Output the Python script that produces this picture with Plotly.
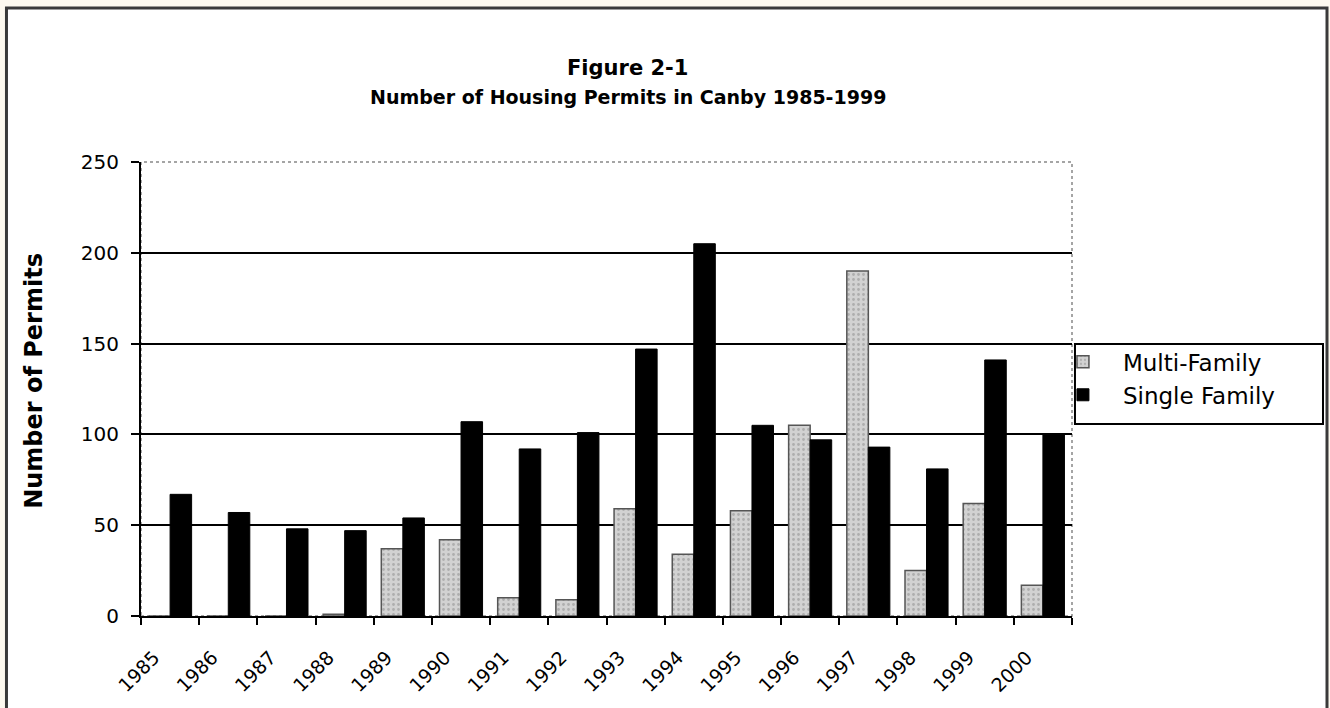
import plotly.graph_objects as go

# data
years = [str(y) for y in range(1985, 2001)]
multi_family = [0, 0, 0, 1, 37, 42, 10, 9, 59, 34, 58, 105, 190, 25, 62, 17]
single_family = [67, 57, 48, 47, 54, 107, 92, 101, 147, 205, 105, 97, 93, 81, 141, 100]
y_ticks = [0, 50, 100, 150, 200, 250]
grid_ticks = [50, 100, 150, 200]

FONT = "DejaVu Sans"

fig = go.Figure()

fig.add_trace(
    go.Bar(
        x=years,
        y=multi_family,
        name="Multi-Family",
        marker=dict(
            color="#cfcfcf",
            line=dict(color="#555555", width=1.5),
            pattern=dict(shape=".", bgcolor="#d2d2d2", fgcolor="#8a8a8a", size=5, solidity=0.25),
        ),
    )
)
fig.add_trace(
    go.Bar(
        x=years,
        y=single_family,
        name="Single Family",
        marker=dict(color="black", line=dict(color="black", width=1)),
    )
)
# empty trace on the overlay axis, only there so its gridlines get drawn
fig.add_trace(
    go.Scatter(x=years, y=[None] * len(years), yaxis="y2", mode="lines",
               showlegend=False, hoverinfo="skip")
)

fig.update_layout(
    width=1330,
    height=708,
    margin=dict(l=141, r=258, t=162, b=92),
    paper_bgcolor="#fdf9ef",
    plot_bgcolor="white",
    barmode="group",
    bargap=0.26,
    bargroupgap=0,
    font=dict(family=FONT, color="black", size=19),
    xaxis=dict(
        type="category",
        range=[-0.5, len(years) - 0.5],
        tickson="boundaries",
        ticks="outside",
        ticklen=7,
        tickwidth=1.5,
        tickcolor="black",
        tickangle=-45,
        ticklabelstandoff=21,
        ticklabelshift=-16,
        tickfont=dict(size=19),
        showline=True,
        linecolor="black",
        linewidth=2,
        showgrid=False,
    ),
    yaxis=dict(
        range=[0, 250],
        tickvals=y_ticks,
        ticks="outside",
        ticklen=8,
        tickwidth=1.5,
        tickcolor="black",
        ticklabelstandoff=8,
        tickfont=dict(size=20),
        showline=True,
        linecolor="black",
        linewidth=2,
        showgrid=False,
        zeroline=False,
    ),
    yaxis2=dict(
        range=[0, 250],
        overlaying="y",
        tickvals=grid_ticks,
        showticklabels=False,
        showgrid=True,
        gridcolor="black",
        gridwidth=1.5,
        zeroline=False,
    ),
    legend=dict(
        x=0.9688,
        xanchor="left",
        y=0.607,
        yanchor="top",
        borderwidth=0,
        bgcolor="rgba(0,0,0,0)",
        font=dict(size=23),
        itemwidth=70,
    ),
    showlegend=True,
)

# chart frame, dotted plot-area border and legend box
fig.add_shape(
    type="rect", xref="paper", yref="paper",
    x0=-0.1445, x1=1.2739, y0=-0.25, y1=1.339,
    line=dict(color="#3a3a3a", width=3), fillcolor="white", layer="below",
)
fig.add_shape(
    type="rect", xref="paper", yref="paper",
    x0=0, x1=1, y0=0, y1=1,
    line=dict(color="#888888", width=1.5, dash="dot"), layer="below",
)
fig.add_shape(
    type="rect", xref="paper", yref="paper",
    x0=1.0032, x1=1.2696, y0=0.4229, y1=0.5991,
    line=dict(color="black", width=2), fillcolor="white", layer="below",
)

fig.add_annotation(
    text="<b>Figure 2-1</b>", xref="paper", yref="paper",
    x=0.523, y=1.207, xanchor="center", yanchor="middle",
    showarrow=False, font=dict(size=21),
)
fig.add_annotation(
    text="<b>Number of Housing Permits in Canby 1985-1999</b>", xref="paper", yref="paper",
    x=0.523, y=1.143, xanchor="center", yanchor="middle",
    showarrow=False, font=dict(size=19),
)
fig.add_annotation(
    text="<b>Number of Permits</b>", xref="paper", yref="paper",
    x=-0.1149, y=0.518, xanchor="center", yanchor="middle",
    textangle=-90, showarrow=False, font=dict(size=24),
)

fig.write_html(
    "out.html",
    config={"displayModeBar": False},
    post_script="document.body.style.margin='0';",
)
